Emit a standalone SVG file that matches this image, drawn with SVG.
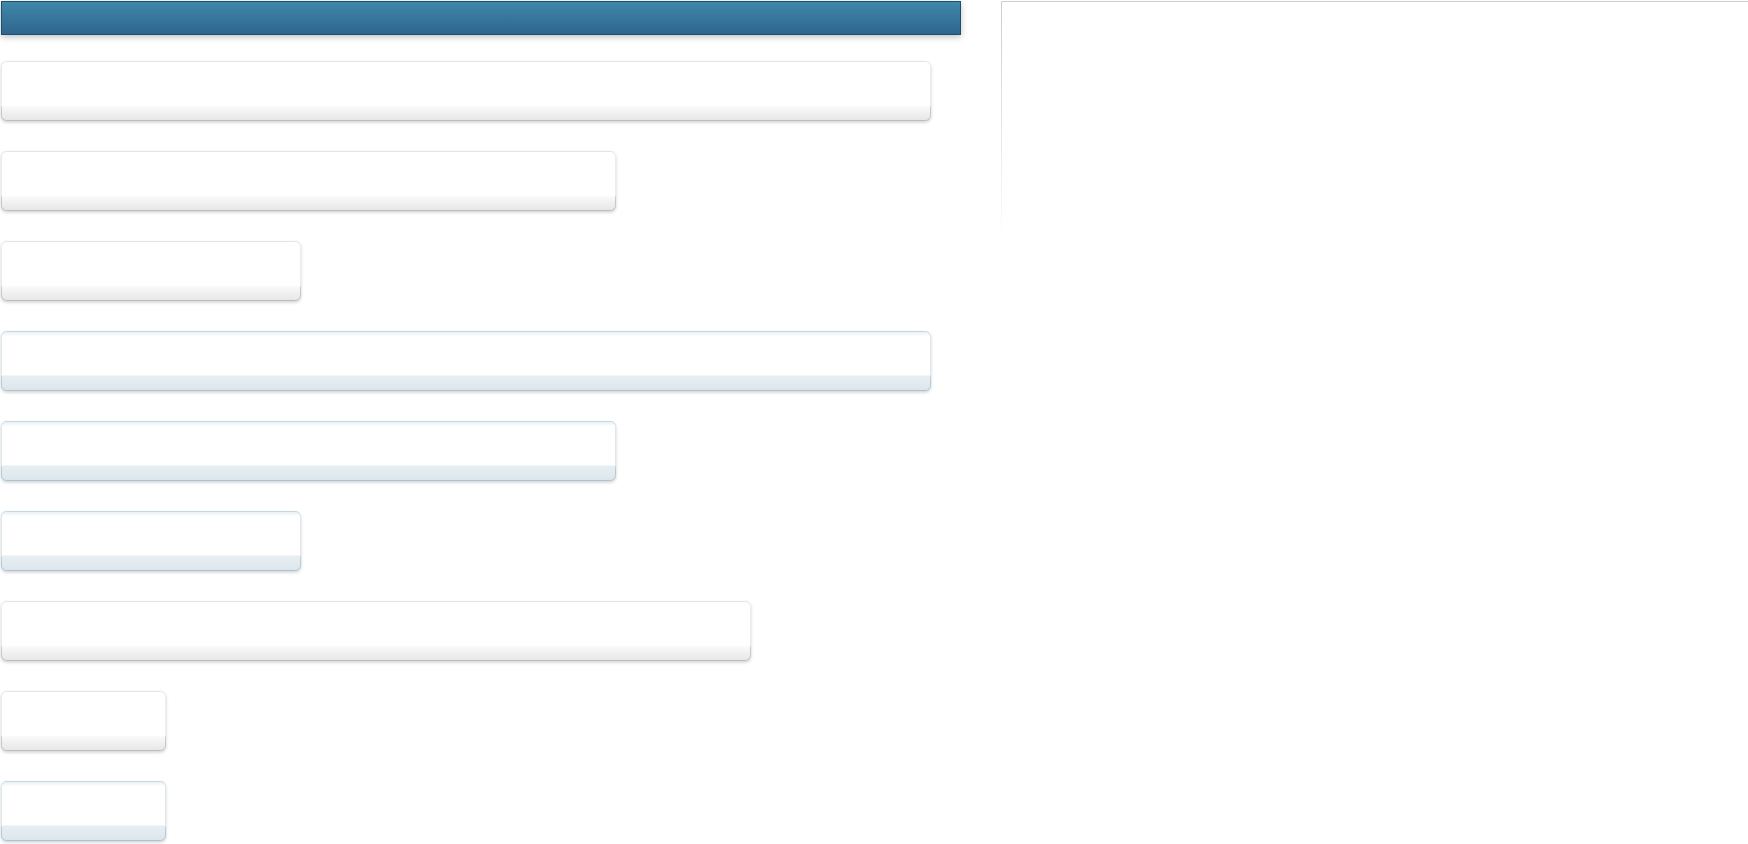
<svg xmlns="http://www.w3.org/2000/svg" width="1748" height="844" viewBox="0 0 1748 844">
  <defs>
    <linearGradient id="hdrFill" x1="0" y1="0" x2="0" y2="1">
      <stop offset="0" stop-color="#4088a8"/>
      <stop offset="1" stop-color="#2e6590"/>
    </linearGradient>
    <linearGradient id="grayFill" x1="0" y1="0" x2="0" y2="1">
      <stop offset="0" stop-color="#ffffff"/>
      <stop offset="0.75" stop-color="#ffffff"/>
      <stop offset="0.76" stop-color="#fafafa"/>
      <stop offset="1" stop-color="#e6e6e6"/>
    </linearGradient>
    <linearGradient id="grayStroke" x1="0" y1="0" x2="0" y2="1">
      <stop offset="0" stop-color="#e4e4e4"/>
      <stop offset="0.1" stop-color="#ececec"/>
      <stop offset="0.75" stop-color="#ececec"/>
      <stop offset="0.77" stop-color="#cdcdcd"/>
      <stop offset="1" stop-color="#bdbdbd"/>
    </linearGradient>
    <linearGradient id="blueFill" x1="0" y1="0" x2="0" y2="1">
      <stop offset="0" stop-color="#e6eff4"/>
      <stop offset="0.08" stop-color="#ffffff"/>
      <stop offset="0.74" stop-color="#ffffff"/>
      <stop offset="0.75" stop-color="#e8eff3"/>
      <stop offset="1" stop-color="#dbe6ec"/>
    </linearGradient>
    <linearGradient id="blueStroke" x1="0" y1="0" x2="0" y2="1">
      <stop offset="0" stop-color="#c4d8e2"/>
      <stop offset="0.1" stop-color="#dde8ee"/>
      <stop offset="0.75" stop-color="#dde8ee"/>
      <stop offset="0.77" stop-color="#bcd0da"/>
      <stop offset="1" stop-color="#abc3d0"/>
    </linearGradient>
    <linearGradient id="panelEdge" gradientUnits="userSpaceOnUse" x1="0" y1="1" x2="0" y2="245">
      <stop offset="0" stop-color="#cccccc"/>
      <stop offset="1" stop-color="#ffffff"/>
    </linearGradient>
    <filter id="shadow" x="-5%" y="-20%" width="110%" height="150%">
      <feDropShadow dx="0" dy="1.5" stdDeviation="1.5" flood-color="#000000" flood-opacity="0.18"/>
    </filter>
    <filter id="hdrShadow" x="-5%" y="-30%" width="110%" height="180%">
      <feDropShadow dx="0" dy="2" stdDeviation="3" flood-color="#000000" flood-opacity="0.25"/>
    </filter>
  </defs>
  <style>
    .gray { fill: url(#grayFill); stroke: url(#grayStroke); stroke-width: 1; filter: url(#shadow); }
    .blue { fill: url(#blueFill); stroke: url(#blueStroke); stroke-width: 1; filter: url(#shadow); }
  </style>
  <rect width="1748" height="844" fill="#ffffff"/>

  <g id="header">
    <rect x="1.5" y="1.5" width="959" height="33" fill="url(#hdrFill)" stroke="#1f4f70" stroke-width="1" filter="url(#hdrShadow)"/>
  </g>

  <g id="panel">
    <line x1="1001.5" y1="1.5" x2="1748" y2="1.5" stroke="#cccccc" stroke-width="1"/>
    <line x1="1001.5" y1="1.5" x2="1001.5" y2="235" stroke="url(#panelEdge)" stroke-width="1"/>
  </g>

  <g id="node1"><rect class="gray" x="1.5" y="61.5" width="929" height="59" rx="5"/></g>
  <g id="node2"><rect class="gray" x="1.5" y="151.5" width="614" height="59" rx="5"/></g>
  <g id="node3"><rect class="gray" x="1.5" y="241.5" width="299" height="59" rx="5"/></g>
  <g id="node4"><rect class="blue" x="1.5" y="331.5" width="929" height="59" rx="5"/></g>
  <g id="node5"><rect class="blue" x="1.5" y="421.5" width="614" height="59" rx="5"/></g>
  <g id="node6"><rect class="blue" x="1.5" y="511.5" width="299" height="59" rx="5"/></g>
  <g id="node7"><rect class="gray" x="1.5" y="601.5" width="749" height="59" rx="5"/></g>
  <g id="node8"><rect class="gray" x="1.5" y="691.5" width="164" height="59" rx="5"/></g>
  <g id="node9"><rect class="blue" x="1.5" y="781.5" width="164" height="59" rx="5"/></g>

  <g id="connectors"/>
</svg>
